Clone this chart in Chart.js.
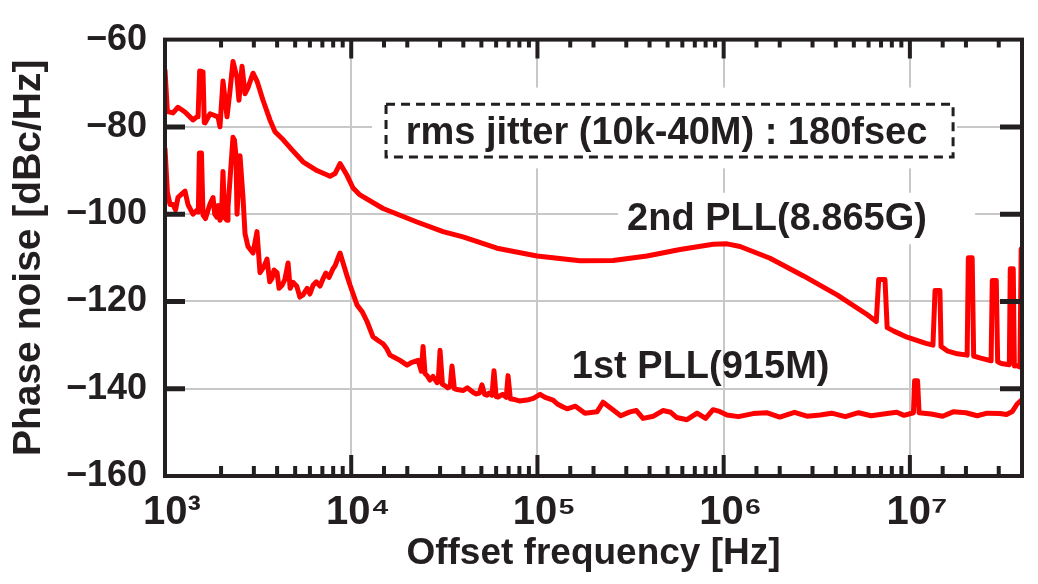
<!DOCTYPE html>
<html><head><meta charset="utf-8">
<script src="https://cdn.jsdelivr.net/npm/chart.js@4.4.1/dist/chart.umd.min.js"></script>
<style>html,body{margin:0;padding:0;background:#fff;} canvas{display:block;}</style>
</head><body>
<canvas id="c" width="1038" height="584"></canvas>
<script>
// ---- data ----
const pll2Freq = [1000, 1030, 1104, 1174, 1280, 1413, 1485, 1505, 1535, 1600, 1625, 1640, 1745, 1926, 1973, 2048, 2153, 2234, 2318, 2437, 2495, 2592, 2690, 2790, 2970, 3119, 3360, 3661, 3897, 4303, 4867, 5508, 6547, 7694, 8185, 8710, 9490, 10230, 11140, 14820, 22550, 31120, 39830, 60650, 99500, 169400, 254700, 387800, 583300, 877000, 1042000, 1225000, 1775000, 2669000, 4064000, 5890000, 6600000, 6800000, 7350000, 7550000, 8200000, 9660000, 11000000, 12200000, 13300000, 13650000, 14500000, 14700000, 16000000, 18000000, 20300000, 20600000, 21600000, 22000000, 24000000, 27300000, 27700000, 29100000, 29600000, 31000000, 34200000, 34600000, 35900000, 36400000, 37500000, 39000000, 39600000];
const pll2Phase = [-67, -76.5, -76.8, -75.5, -76.6, -78.4, -77.7, -77.7, -67.2, -67.4, -79, -79.1, -77, -77.7, -80, -69.5, -77.7, -71.7, -65, -68.8, -73.9, -66.1, -72.4, -71, -67.7, -69.5, -73.9, -78.4, -81.1, -82.9, -85.5, -88, -90, -91.3, -90.7, -88.4, -91.1, -94, -95.6, -98.7, -101.8, -104, -105.2, -107.8, -109.6, -110.7, -110.6, -109.6, -108.1, -106.9, -106.8, -107.4, -110.1, -114.1, -118.5, -123, -124.6, -115, -115, -126, -126.8, -128.2, -129, -129.6, -130, -117.5, -117.5, -130.3, -131.4, -132, -132.3, -110, -110, -132.5, -133, -133.6, -115.2, -115.2, -133.8, -134.2, -134.5, -112.5, -112.5, -134.8, -134.7, -135, -108];

const pll1Freq = [1000, 1030, 1064, 1104, 1140, 1174, 1220, 1280, 1329, 1413, 1485, 1510, 1530, 1570, 1600, 1650, 1702, 1750, 1811, 1850, 1901, 1930, 1973, 2010, 2048, 2090, 2153, 2179, 2318, 2360, 2405, 2437, 2528, 2624, 2690, 2790, 2970, 3119, 3237, 3400, 3530, 3650, 3756, 3850, 3997, 4100, 4249, 4400, 4581, 4700, 4867, 5100, 5300, 5508, 5800, 6000, 6237, 6500, 6800, 7058, 7300, 7600, 7984, 8200, 8500, 8710, 9490, 9862, 10740, 11500, 12160, 13090, 14000, 14820, 15500, 16150, 17000, 18280, 19950, 21000, 22850, 23800, 24310, 24900, 25560, 26500, 27500, 28900, 29300, 29990, 30900, 31900, 33000, 34000, 34770, 35800, 36990, 40000, 42000, 45080, 47000, 48800, 50370, 52000, 53580, 55000, 57000, 58440, 60000, 61400, 65000, 68000, 69510, 71500, 73940, 80000, 87940, 95000, 103300, 110000, 121300, 128000, 137200, 144200, 160000, 180000, 208900, 225000, 250000, 280000, 314000, 340000, 369000, 420000, 472000, 520000, 560000, 635000, 720000, 800000, 877000, 950000, 1042000, 1200000, 1439000, 1700000, 2000000, 2400000, 2800000, 3296000, 3800000, 4500000, 5300000, 6200000, 7547000, 8500000, 9300000, 10450000, 10600000, 11000000, 11200000, 13000000, 15000000, 17060000, 20000000, 23000000, 26000000, 30480000, 33000000, 35500000, 37660000, 40000000];
const pll1Phase = [-85, -95, -97.8, -97.8, -99, -96.2, -95.5, -94.7, -97.8, -100, -99.1, -99.5, -86, -86, -100.2, -101, -99.1, -97.5, -96.2, -100, -100.7, -98, -101.4, -100.5, -90.2, -100.8, -101.4, -98.5, -82.4, -83, -86.6, -100, -86.6, -96.2, -104.5, -107.4, -108.9, -104, -113.4, -112, -110.3, -115.5, -114.7, -112.8, -113.4, -117, -116.3, -115, -111.2, -117, -115.6, -116.5, -119, -118.5, -117, -118.3, -116.3, -115.5, -116.5, -114.8, -113.5, -114.5, -112.5, -111.8, -110, -108.9, -114.1, -116.3, -120.8, -122.5, -124.6, -128.1, -129, -129.7, -130.8, -132.3, -132.8, -133.5, -134.6, -134, -133.5, -136, -130.3, -136.5, -137, -138, -137.2, -138.6, -138.5, -131.2, -139, -139.3, -139.8, -139.5, -134.8, -140, -140.2, -140.4, -139.8, -140.8, -141.2, -141, -139.1, -141.3, -141.5, -141, -141.5, -135.9, -141.8, -141.9, -141.3, -142, -137, -142.3, -142.4, -142.8, -142.6, -142.2, -141.3, -142.0, -142.6, -143.5, -144.2, -144.6, -144.0, -145.6, -145.3, -143.1, -144.6, -146.2, -145.3, -145.0, -146.8, -146.3, -145, -145.4, -146.6, -147.1, -145.6, -146.8, -144.8, -145.2, -146, -146.4, -145.7, -145.5, -146.5, -145.4, -146.3, -146, -145.6, -146.4, -145.5, -146.2, -145.7, -145.4, -146.1, -145.5, -138.2, -138.2, -145.5, -145.8, -146.3, -145.3, -145.5, -146.2, -145.6, -145.7, -145.9, -145.2, -143.5, -142.5];

const xTickValues = [1e3, 1e4, 1e5, 1e6, 1e7];
const xTickLabels = ['10\u00B3', '10\u2074', '10\u2075', '10\u2076', '10\u2077'];
const yTickValues = [-160, -140, -120, -100, -80, -60];

const seriesNames = ['2nd PLL(8.865G)', '1st PLL(915M)'];
const jitterText = 'rms jitter (10k-40M) : 180fsec';

// ---- annotation placement in data units ----
const notes = [
  {text: jitterText, f: 19600, db: -83.9},
  {text: seriesNames[0], f: 303000, db: -103.6},
  {text: seriesNames[1], f: 153000, db: -137.5}
];
const jitterBox = {f0: 15380, f1: 17060000, db0: -74.8, db1: -86.9};
const blankAreas = [
  {f0: 12940, f1: 17900000, db0: -71.0, db1: -89.5},
  {f0: 271000, f1: 22400000, db0: -95.1, db1: -106.9}
];

const INK = '#231f20';
const FONT = "'Liberation Sans', Arial, Helvetica, sans-serif";
Chart.defaults.font.family = FONT;
Chart.defaults.color = INK;

const isDecade = v => Math.abs(Math.log10(v) - Math.round(Math.log10(v))) < 1e-6;

const decor = {
  id: 'decor',
  beforeDatasetsDraw(chart) {
    const {ctx} = chart, xs = chart.scales.x, ys = chart.scales.y;
    ctx.save();
    ctx.fillStyle = '#ffffff';
    for (const r of blankAreas) {
      const x1 = xs.getPixelForValue(r.f0), x2 = xs.getPixelForValue(r.f1);
      const y1 = ys.getPixelForValue(r.db0), y2 = ys.getPixelForValue(r.db1);
      ctx.fillRect(x1, y1, x2 - x1, y2 - y1);
    }
    ctx.restore();
  },
  afterDatasetsDraw(chart) {
    const {ctx, chartArea: a} = chart, xs = chart.scales.x, ys = chart.scales.y;
    ctx.save();
    ctx.strokeStyle = INK;
    ctx.lineCap = 'butt';
    for (const t of xs.ticks) {
      const px = xs.getPixelForValue(t.value);
      if (px <= a.left + 1 || px >= a.right - 1) continue;
      const major = isDecade(t.value);
      ctx.lineWidth = 4;
      ctx.beginPath();
      ctx.moveTo(px, a.bottom); ctx.lineTo(px, a.bottom - (major ? 21 : 10));
      ctx.moveTo(px, a.top); ctx.lineTo(px, a.top + (major ? 19 : 8));
      ctx.stroke();
    }
    for (const v of yTickValues) {
      const py = ys.getPixelForValue(v);
      if (py <= a.top + 1 || py >= a.bottom - 1) continue;
      ctx.lineWidth = 5;
      ctx.beginPath();
      ctx.moveTo(a.left, py); ctx.lineTo(a.left + 20, py);
      ctx.moveTo(a.right, py); ctx.lineTo(a.right - 22, py);
      ctx.stroke();
    }
    ctx.lineWidth = 4;
    ctx.strokeRect(a.left, a.top, a.right - a.left, a.bottom - a.top);
    const bx1 = xs.getPixelForValue(jitterBox.f0), bx2 = xs.getPixelForValue(jitterBox.f1);
    const by1 = ys.getPixelForValue(jitterBox.db0), by2 = ys.getPixelForValue(jitterBox.db1);
    ctx.lineWidth = 3;
    ctx.setLineDash([9, 6]);
    ctx.strokeRect(bx1, by1, bx2 - bx1, by2 - by1);
    ctx.setLineDash([]);
    ctx.fillStyle = INK;
    ctx.font = "bold 38px " + FONT;
    ctx.textBaseline = 'alphabetic';
    ctx.textAlign = 'left';
    for (const n of notes) {
      ctx.fillText(n.text, xs.getPixelForValue(n.f), ys.getPixelForValue(n.db));
    }
    ctx.restore();
  }
};

const mk = (fs, ps) => fs.map((f, i) => ({x: f, y: ps[i]}));

new Chart(document.getElementById('c'), {
  type: 'line',
  data: {
    datasets: [
      {label: seriesNames[0], data: mk(pll2Freq, pll2Phase)},
      {label: seriesNames[1], data: mk(pll1Freq, pll1Phase)}
    ]
  },
  options: {
    responsive: false,
    animation: false,
    devicePixelRatio: 1,
    layout: {padding: {left: 0, right: 16, top: 27, bottom: 0}},
    elements: {
      line: {borderColor: '#ff0000', borderWidth: 5, tension: 0, fill: false, borderJoinStyle: 'round', borderCapStyle: 'round'},
      point: {radius: 0}
    },
    plugins: {legend: {display: false}, tooltip: {enabled: false}},
    scales: {
      x: {
        type: 'logarithmic', min: 1000, max: 40000000,
        border: {display: false},
        grid: {
          color: c => (c.tick && isDecade(c.tick.value)) ? '#c8c8c8' : 'rgba(0,0,0,0)',
          lineWidth: 2, drawTicks: false
        },
        ticks: {
          autoSkip: false, maxRotation: 0, minRotation: 0, padding: 13, labelOffset: 7,
          font: {size: 40, weight: 'bold'}, color: INK,
          callback: v => {
            const i = xTickValues.findIndex(t => Math.abs(t - v) / t < 1e-6);
            return i >= 0 ? xTickLabels[i] : '';
          }
        },
        title: {display: true, text: 'Offset frequency [Hz]', color: INK,
          font: {size: 37, weight: 'bold'}, padding: {top: 0, bottom: 8}},
        afterFit: s => { s.height = 108; }
      },
      y: {
        min: -160, max: -60,
        border: {display: false},
        grid: {color: '#c8c8c8', lineWidth: 2, drawTicks: false},
        afterBuildTicks: s => { s.ticks = yTickValues.map(v => ({value: v})); },
        ticks: {
          padding: 18, font: {size: 36, weight: 'bold'}, color: INK,
          callback: v => '\u2212' + Math.abs(v)
        },
        title: {display: true, text: 'Phase noise [dBc/Hz]', color: INK,
          font: {size: 39, weight: 'bold'}, padding: {top: 6, bottom: 0}},
        afterFit: s => { s.width = 165; }
      }
    }
  },
  plugins: [decor]
});
</script>
</body></html>
